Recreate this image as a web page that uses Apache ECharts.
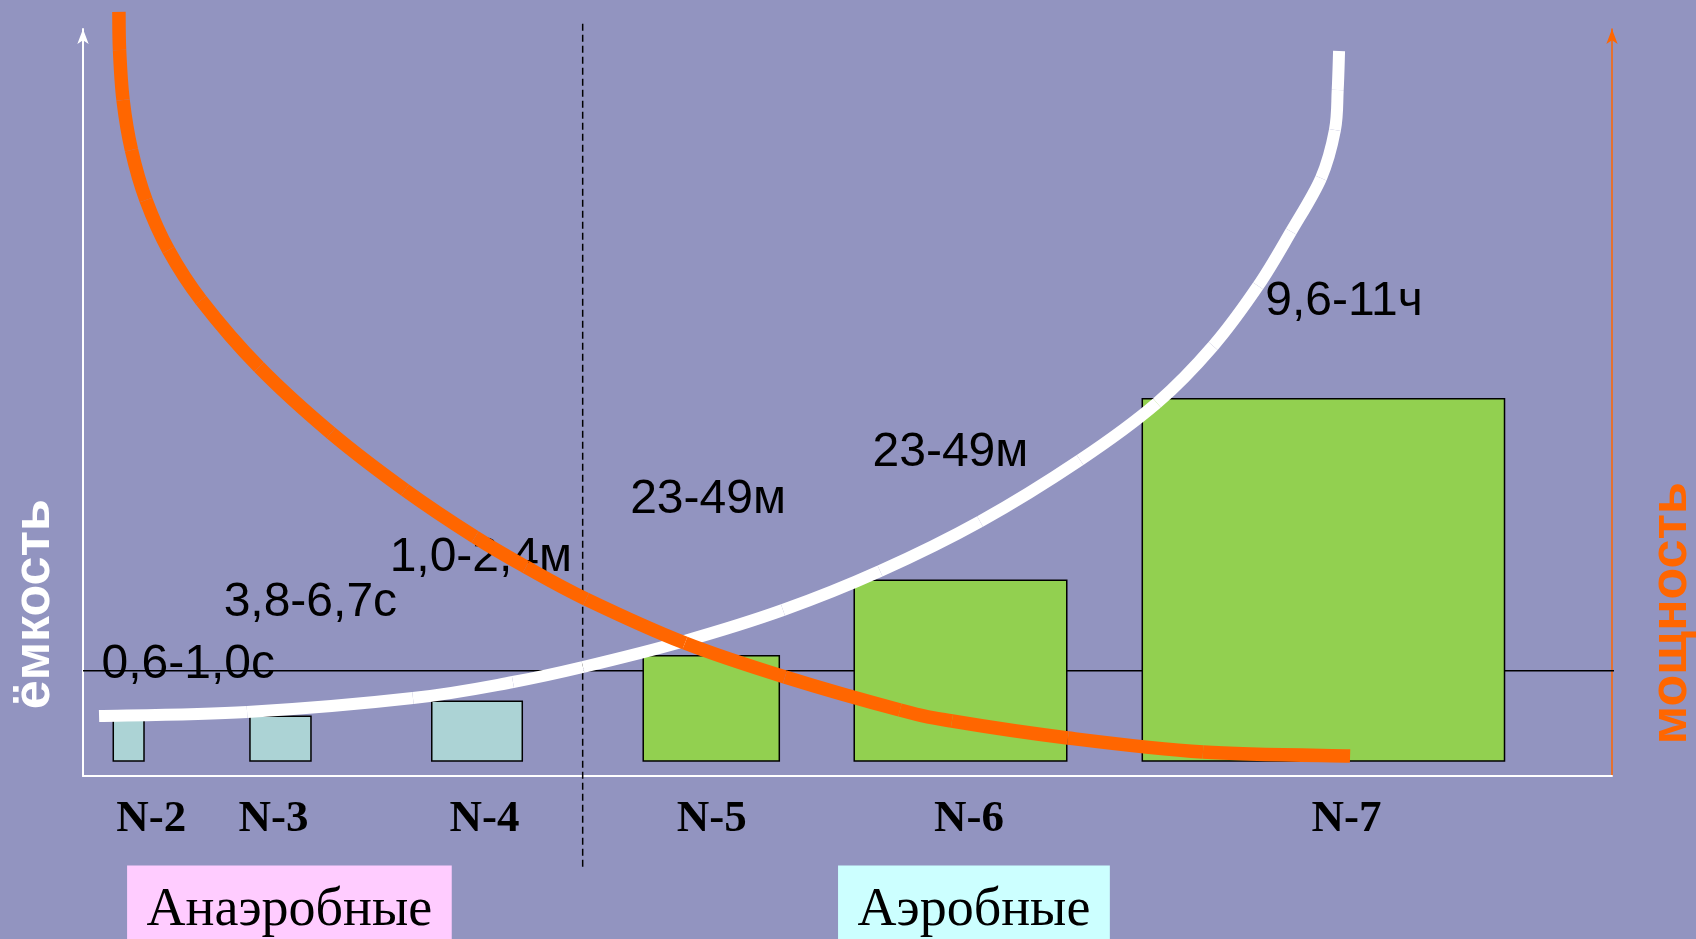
<!DOCTYPE html>
<html>
<head>
<meta charset="utf-8">
<script src="https://cdn.jsdelivr.net/npm/echarts@6.0.0/dist/echarts.min.js"></script>
<style>
    html, body { margin: 0; padding: 0; background: #9294c0; }
    #chart { width: 1696px; height: 939px; }
</style>
</head>
<body>
<div id="chart"></div>
<script>
    // категории и столбики
    var categories = ['N-2', 'N-3', 'N-4', 'N-5', 'N-6', 'N-7'];
    var categoryX = [4.47, 12.46, 26.26, 41.12, 57.95, 82.64];
    var categoryY = -5.8;
    var barStart = [1.98, 10.92, 22.81, 36.64, 50.44, 69.28];
    var barEnd = [3.99, 14.91, 28.73, 45.54, 64.34, 92.97];
    var barTop = [8, 8, 10, 16.1, 26.2, 50.5];
    var barBase = 2;
    var barGroup = [0, 0, 0, 1, 1, 1];   // 0 - анаэробные, 1 - аэробные

    // подписи времени
    var rangeLabels = ['0,6-1,0с', '3,8-6,7с', '1,0-2,4м', '23-49м', '23-49м', '9,6-11ч'];
    var rangeX = [6.88, 14.87, 26.02, 40.88, 56.73, 82.47];
    var rangeY = [15.2, 23.4, 29.5, 37.2, 43.5, 63.7];

    // кривая ёмкости (белая)
    var capacityX = [1.05, 10.73, 21.58, 28.12, 32.70, 39.24, 45.78, 52.13, 58.67, 65.21, 70.24, 73.91, 76.85, 79.01, 80.97, 81.88, 82.06, 82.15];
    var capacityY = [8.03, 8.57, 10.44, 12.58, 14.59, 18.01, 22.22, 27.44, 34.07, 42.30, 49.93, 57.56, 65.60, 72.89, 80.05, 86.48, 91.83, 97.05];

    // кривая мощности (оранжевая)
    var powerX = [2.35, 2.39, 2.62, 3.17, 4.12, 5.59, 7.72, 11.51, 16.22, 21.06, 25.64, 28.97, 32.90, 39.37, 45.91, 53.43, 56.83, 64.42, 73.25, 82.87];
    var powerY = [102.28, 97.19, 90.50, 83.80, 77.11, 70.42, 63.72, 54.75, 45.92, 38.29, 31.99, 27.98, 23.69, 17.80, 13.25, 8.84, 7.36, 5.09, 3.21, 2.68];

    // линия уровня и граница зон
    var levelY = 14.1;
    var levelEndX = 100.9;
    var dividerX = 32.68;
    var dividerFrom = -12.14;
    var dividerTo = 101.2;

    // зоны
    var groupNames = ['Анаэробные', 'Аэробные'];
    var groupX = [13.5, 58.27];
    var groupY = -11.98;

    // подписи осей
    var axisTitles = ['ёмкость', 'мощность'];
    var axisTitleX = [-3.14, 103.89];
    var axisTitleY = [23.0, 21.8];

    function zip(xs, ys) {
        var out = [];
        for (var i = 0; i < xs.length; i++) out.push([xs[i], ys[i]]);
        return out;
    }

    var barData = [];
    var categoryData = [];
    for (var i = 0; i < categories.length; i++) {
        barData.push([barStart[i], barEnd[i], barTop[i], barBase, barGroup[i]]);
        categoryData.push([categoryX[i], categoryY]);
    }

    var chart = echarts.init(document.getElementById('chart'));

    var hiddenAxis = {
        axisTick: { show: false }, axisLabel: { show: false }, splitLine: { show: false }
    };

    // невидимые точки, которые несут только подписи
    function textSeries(name, data, label) {
        label.show = true;
        return {
            name: name, type: 'scatter', symbolSize: 0, z: 4, clip: false, silent: true,
            itemStyle: { opacity: 1 },
            label: label,
            data: data
        };
    }

    // плавная кривая (Catmull-Rom -> кубические Безье), строится на первой точке
    function curveSeries(name, xs, ys, color, width, z) {
        return {
            name: name, type: 'custom', z: z, clip: false, silent: true,
            renderItem: function (params, api) {
                if (params.dataIndex !== 0) return null;
                var pts = [];
                for (var i = 0; i < xs.length; i++) pts.push(api.coord([xs[i], ys[i]]));
                var parts = [];
                for (var j = 0; j < pts.length - 1; j++) {
                    var p0 = pts[j - 1] || pts[j], p1 = pts[j], p2 = pts[j + 1], p3 = pts[j + 2] || pts[j + 1];
                    parts.push({
                        type: 'bezierCurve',
                        shape: {
                            x1: p1[0], y1: p1[1], x2: p2[0], y2: p2[1],
                            cpx1: p1[0] + (p2[0] - p0[0]) / 6, cpy1: p1[1] + (p2[1] - p0[1]) / 6,
                            cpx2: p2[0] - (p3[0] - p1[0]) / 6, cpy2: p2[1] - (p3[1] - p1[1]) / 6
                        },
                        style: { stroke: color, lineWidth: width, fill: 'none', lineCap: 'butt' }
                    });
                }
                return { type: 'group', children: parts };
            },
            data: zip(xs, ys)
        };
    }

    chart.setOption({
        backgroundColor: '#9294c0',
        animation: false,
        grid: { left: 83, right: 84, top: 29, bottom: 163 },
        xAxis: Object.assign({
            type: 'value', min: 0, max: 100,
            axisLine: { lineStyle: { color: '#ffffff', width: 2 } }
        }, hiddenAxis),
        yAxis: [
            Object.assign({
                type: 'value', min: 0, max: 100, position: 'left',
                axisLine: { show: true, symbol: ['none', 'arrow'], symbolSize: [8.5, 15], lineStyle: { color: '#ffffff', width: 2 } }
            }, hiddenAxis),
            Object.assign({
                type: 'value', min: 0, max: 100, position: 'right',
                axisLine: { show: true, symbol: ['none', 'arrow'], symbolSize: [8.5, 15], lineStyle: { color: '#ff6600', width: 1.5 } }
            }, hiddenAxis)
        ],
        series: [
            {
                name: 'level', type: 'line', clip: false, z: 1,
                symbol: 'none', silent: true,
                lineStyle: { color: '#000000', width: 1.5 },
                data: [[0, levelY], [levelEndX, levelY]]
            },
            {
                name: 'bars', type: 'custom', z: 2, silent: true,
                renderItem: function (params, api) {
                    var p0 = api.coord([api.value(0), api.value(3)]);
                    var p1 = api.coord([api.value(1), api.value(2)]);
                    return {
                        type: 'rect',
                        shape: { x: p0[0], y: p1[1], width: p1[0] - p0[0], height: p0[1] - p1[1] },
                        style: {
                            fill: api.value(4) === 0 ? '#acd3d5' : '#92d050',
                            stroke: '#000000', lineWidth: 1.5
                        }
                    };
                },
                data: barData
            },
            {
                name: 'divider', type: 'line', clip: false, z: 3,
                symbol: 'none', silent: true,
                lineStyle: { color: '#000000', width: 1.5, type: [7, 4] },
                data: [[dividerX, dividerFrom], [dividerX, dividerTo]]
            },
            textSeries('ranges', zip(rangeX, rangeY), {
                position: 'inside', offset: [0, 2],
                formatter: function (p) { return rangeLabels[p.dataIndex]; },
                fontFamily: 'Liberation Sans, Arial', fontSize: 48, color: '#000000'
            }),
            textSeries('categories', categoryData, {
                position: 'inside',
                formatter: function (p) { return categories[p.dataIndex]; },
                fontFamily: 'Liberation Serif, Times New Roman', fontWeight: 'bold', fontSize: 45, color: '#000000'
            }),
            textSeries('groups', [
                { value: [groupX[0], groupY], label: { backgroundColor: '#ffccff' } },
                { value: [groupX[1], groupY], label: { backgroundColor: '#ccffff' } }
            ], {
                position: 'bottom', distance: 0,
                formatter: function (p) { return groupNames[p.dataIndex]; },
                fontFamily: 'Liberation Serif, Times New Roman', fontSize: 54, lineHeight: 54, color: '#000000',
                padding: [18, 19.5, 30, 19.5]
            }),
            textSeries('titles', [
                { value: [axisTitleX[0], axisTitleY[0]], label: { color: '#ffffff' } },
                { value: [axisTitleX[1], axisTitleY[1]], label: { color: '#ff6600' } }
            ], {
                position: 'inside', rotate: 90,
                formatter: function (p) { return axisTitles[p.dataIndex]; },
                fontFamily: 'Liberation Sans, Arial', fontWeight: 'bold', fontSize: 52
            }),
            curveSeries('ёмкость', capacityX, capacityY, '#ffffff', 12, 5),
            curveSeries('мощность', powerX, powerY, '#ff6600', 13.5, 6)
        ]
    });
</script>
</body>
</html>
